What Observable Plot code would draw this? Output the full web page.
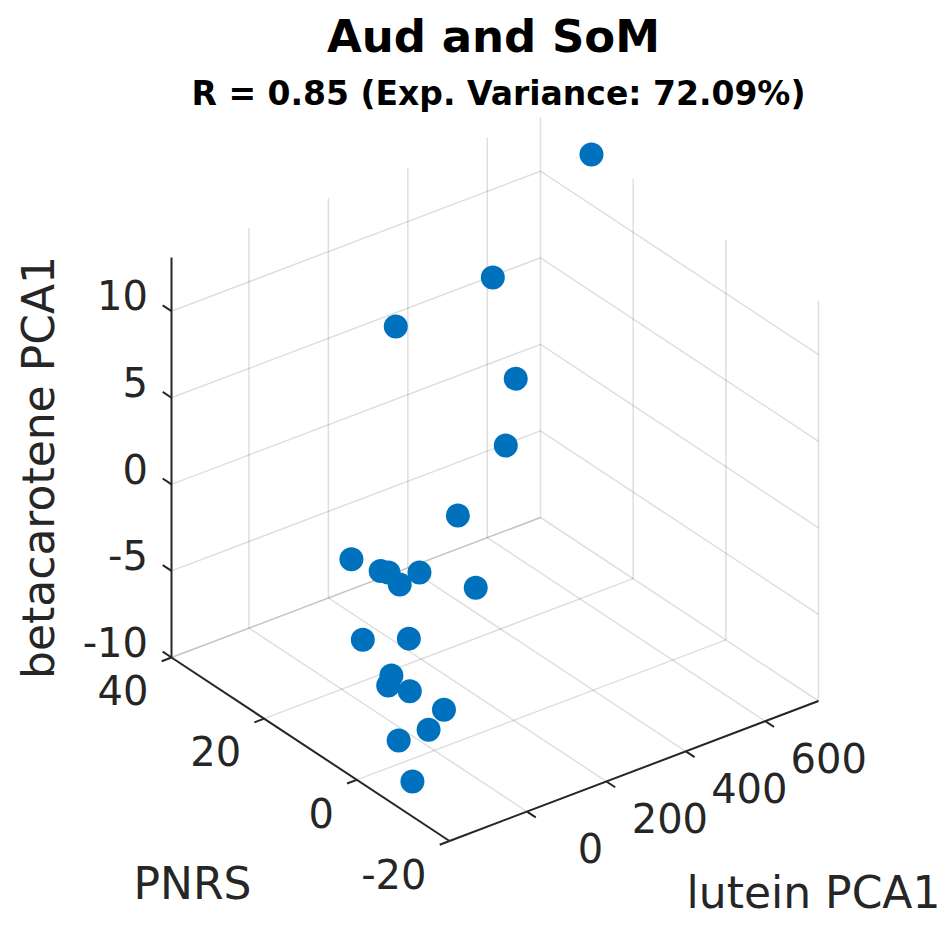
<!DOCTYPE html>
<html>
<head>
<meta charset="utf-8">
<script src="https://cdn.jsdelivr.net/npm/d3@7"></script>
<script src="https://cdn.jsdelivr.net/npm/@observablehq/plot@0.6"></script>
<style>
  body { margin: 0; background: #ffffff; }
  #fig { position: relative; width: 945px; height: 945px; overflow: hidden; background: #ffffff; font-family: "DejaVu Sans", sans-serif; }
  .ttl { position: absolute; white-space: nowrap; transform: translateX(-50%); line-height: 1; font-weight: bold; color: #000; }
  #title { left: 493.5px; top: 13.6px; font-size: 45px; }
  #subtitle { left: 498.5px; top: 77px; font-size: 33px; }
  #plot { position: absolute; left: 0; top: 118px; }
</style>
</head>
<body>
<div id="fig">
  <div id="title" class="ttl">Aud and SoM</div>
  <div id="subtitle" class="ttl">R = 0.85 (Exp. Variance: 72.09%)</div>
  <div id="plot"></div>
</div>
<script>
// ---- data ----
const luteinPCA1 = [734, 404, 253, 415, 320, 176, 81, 83, 40, -22, 53, 21, 30, -29, -38, -116, -120, -69, -131, -43, -195];
const pnrs = [29, 22, 30, 18, 12, 10, -2, 25, 15, 8, 12, 5, 18, 3, 6, 0, -5, -8, -10, 4, -12];
const betacarotenePCA1 = [12.9, 9.91, 6.98, 4.68, 2.70, 0.27, -0.95, -4.10, -2.64, -0.94, -3.0, -0.79, -7.05, -3.82, -6.40, -5.24, -4.66, -5.63, -5.90, -9.76, -7.98];

const luteinTicks = [0, 200, 400, 600];
const pnrsTicks = [-20, 0, 20, 40];
const betaTicks = [-10, -5, 0, 5, 10];

const luteinLim = [-195, 734];
const pnrsLim = [-20, 40];
const betaLim = [-10, 13.1];

// ---- 3D view (MATLAB default az -37.5, el 30), screen vectors of the box edges ----
const O = [449, 840.5];      // (lutein min, PNRS min, beta min)
const eL = [369, -140];      // full lutein range
const eP = [-278, -183.5];   // full PNRS range
const eZ = [0, -400];        // full beta range

function proj(L, P, Z) {
  const nx = (L - luteinLim[0]) / (luteinLim[1] - luteinLim[0]);
  const ny = (P - pnrsLim[0]) / (pnrsLim[1] - pnrsLim[0]);
  const nz = (Z - betaLim[0]) / (betaLim[1] - betaLim[0]);
  return [O[0] + nx * eL[0] + ny * eP[0] + nz * eZ[0],
          O[1] + nx * eL[1] + ny * eP[1] + nz * eZ[1]];
}
function seg(a, b) {
  const p = proj(...a), q = proj(...b);
  return {x1: p[0], y1: p[1], x2: q[0], y2: q[1]};
}

const [L0, L1] = luteinLim, [P0, P1] = pnrsLim, [Z0, Z1] = betaLim;

// grid lines on floor and the two back walls
const grid = [];
for (const L of luteinTicks) {
  grid.push(seg([L, P0, Z0], [L, P1, Z0]));   // floor
  grid.push(seg([L, P1, Z0], [L, P1, Z1]));   // back-left wall
}
for (const P of pnrsTicks) {
  grid.push(seg([L0, P, Z0], [L1, P, Z0]));   // floor
  grid.push(seg([L1, P, Z0], [L1, P, Z1]));   // right wall
}
for (const Z of betaTicks) {
  grid.push(seg([L0, P1, Z], [L1, P1, Z]));   // back-left wall
  grid.push(seg([L1, P0, Z], [L1, P1, Z]));   // right wall
}

// axis lines
const axes = [
  seg([L0, P0, Z0], [L1, P0, Z0]),  // lutein
  seg([L0, P0, Z0], [L0, P1, Z0]),  // PNRS
  seg([L0, P1, Z0], [L0, P1, Z1])   // beta
];

// tick marks
const dP = 1.9, dL = 24.7;
const ticks = [
  ...luteinTicks.map(L => seg([L, P0, Z0], [L, P0 - dP, Z0])),
  ...pnrsTicks.map(P => seg([L0, P, Z0], [L0 - dL, P, Z0])),
  ...betaTicks.map(Z => seg([L0, P1, Z], [L0, P1 + dP, Z]))
];

const luteinLabels = luteinTicks.map(L => { const p = proj(L, P0, Z0); return {x: p[0] + 63.5, y: p[1] + 39, t: String(L)}; });
const pnrsLabels = pnrsTicks.map(P => { const p = proj(L0, P, Z0); return {x: p[0] - 23, y: p[1] + 35, t: String(P)}; });
const betaLabels = betaTicks.map(Z => { const p = proj(L0, P1, Z); return {x: p[0] - 23.5, y: p[1] - 13.5, t: String(Z)}; });

const pts = luteinPCA1.map((L, i) => { const p = proj(L, pnrs[i], betacarotenePCA1[i]); return {x: p[0], y: p[1]}; });

const ink = "#262626";

const chart = Plot.plot({
  width: 945,
  height: 827,
  margin: 0,
  x: {domain: [0, 945], range: [0, 945], axis: null},
  y: {domain: [118, 945], range: [0, 827], axis: null},
  style: {background: "white", fontFamily: "DejaVu Sans, sans-serif", overflow: "visible"},
  marks: [
    Plot.link(grid, {x1: "x1", y1: "y1", x2: "x2", y2: "y2", stroke: ink, strokeOpacity: 0.15, strokeWidth: 1.5}),
    Plot.link(axes, {x1: "x1", y1: "y1", x2: "x2", y2: "y2", stroke: ink, strokeWidth: 2}),
    Plot.link(ticks, {x1: "x1", y1: "y1", x2: "x2", y2: "y2", stroke: ink, strokeWidth: 2}),
    Plot.text(luteinLabels, {x: "x", y: "y", text: "t", fontSize: 40, fill: ink, textAnchor: "middle", lineAnchor: "middle"}),
    Plot.text(pnrsLabels, {x: "x", y: "y", text: "t", fontSize: 40, fill: ink, textAnchor: "end", lineAnchor: "middle"}),
    Plot.text(betaLabels, {x: "x", y: "y", text: "t", fontSize: 40, fill: ink, textAnchor: "end", lineAnchor: "middle"}),
    Plot.text([{x: 39, y: 467, t: "betacarotene PCA1"}], {x: "x", y: "y", text: "t", fontSize: 44, fill: ink, rotate: -90, textAnchor: "middle", lineAnchor: "middle"}),
    Plot.text([{x: 192, y: 884, t: "PNRS"}], {x: "x", y: "y", text: "t", fontSize: 44, fill: ink, textAnchor: "middle", lineAnchor: "middle"}),
    Plot.text([{x: 813, y: 893, t: "lutein PCA1"}], {x: "x", y: "y", text: "t", fontSize: 44, fill: ink, textAnchor: "middle", lineAnchor: "middle"}),
    Plot.dot(pts, {x: "x", y: "y", r: 12, fill: "#0072BD", stroke: "none"})
  ]
});
document.getElementById("plot").appendChild(chart);
</script>
</body>
</html>
